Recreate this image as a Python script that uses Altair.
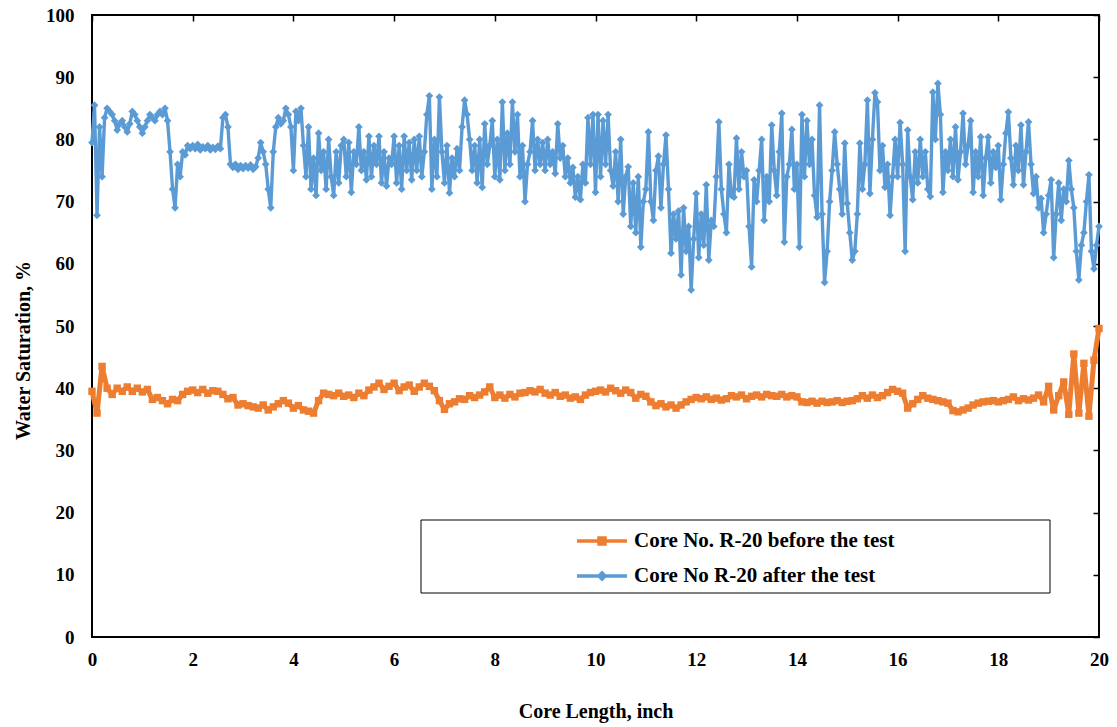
import altair as alt
import pandas as pd

BEFORE = "Core No. R-20 before the test"
AFTER = "Core No R-20 after the test"
ORANGE = "#ED7D31"
BLUE = "#5B9BD5"

# Water saturation after the test, sampled every 0.05 inch (one row per inch)
after_sw = [
    79.5, 85.5, 67.8, 82, 74, 83.5, 85, 84.5, 84, 83, 81.5, 82.5, 83, 82, 81.2, 82.5, 84.5, 84, 83, 82,
    81, 82, 83, 84, 83.5, 83, 84, 84.5, 84, 85, 83, 78, 72, 69, 76, 74, 78, 77.5, 79, 78.5,
    79, 78.5, 79.2, 78.3, 78.8, 78.5, 79, 78.3, 78.7, 78.4, 78.9, 78.5, 83.5, 84, 82, 76, 75.5, 76, 75.2, 75.8,
    75.3, 75.8, 75.4, 75.9, 75.2, 75.6, 77, 79.5, 78, 76, 72, 69, 78, 82, 83.5, 82.5, 83, 85, 84, 82,
    75, 84.5, 83, 85, 79, 74, 82, 72, 77, 71, 81, 75, 78, 72, 80, 74, 71, 78, 73, 79,
    80, 74, 79.5, 71.5, 78, 76, 82, 75, 78, 73.5, 80.5, 74, 79, 76, 80.5, 73, 78, 72.5, 77, 76,
    80.5, 73, 79, 72, 80.5, 75, 79.5, 73.5, 80, 75, 80.5, 74, 78, 84, 87, 72, 80, 74, 86.8, 78,
    73, 79, 71.4, 77, 74, 78.5, 75, 82, 86.3, 84, 80, 75, 79, 73, 80, 72.3, 82.5, 76, 79, 83,
    74, 80, 73.5, 86, 75, 81, 76, 86, 78, 84, 74, 79, 70, 76, 78, 83, 75, 80, 76, 79.5,
    75, 80, 76, 78, 74.5, 82.5, 77, 79, 74, 77, 73, 75.5, 70.7, 74, 70.3, 76, 73, 83.5, 76, 84,
    71.5, 84, 74, 83, 76, 84, 75, 72.5, 78, 70, 80, 68, 74, 75.6, 66, 73, 65, 74, 62.7, 70,
    72, 81.2, 70, 67, 75, 77.3, 69, 76, 80.7, 72, 61.7, 68, 64, 68.5, 58.2, 69, 62, 66, 55.8, 64,
    71.3, 61, 68, 63, 72.7, 60.6, 67, 66, 74, 82.8, 72, 68, 65, 76, 71, 70.7, 80.2, 72, 78, 74,
    75, 66, 59.5, 73.5, 70, 75, 80, 67, 74, 70, 82.3, 75, 71, 78, 84.2, 63.5, 74, 76, 81.6, 72,
    76, 62.7, 84, 74, 83, 76, 80, 71, 67.5, 85.5, 68, 57, 62, 70, 75, 81.2, 76, 72, 68, 79.4,
    69.7, 65, 60.6, 62, 68, 79.4, 72, 76, 86.3, 71.3, 80, 87.5, 86, 75, 79, 72.3, 76, 67.8, 74, 80,
    74, 82.7, 76, 62, 81.5, 74, 70.3, 78, 73, 80, 74, 78, 72, 70.8, 87.6, 80, 89, 84, 71.5, 78,
    75, 80, 74, 82, 73.5, 78, 84.2, 76, 79, 83, 71.5, 78, 74, 80.4, 71, 77, 80.4, 73, 78, 75.5,
    79, 70.3, 76, 81, 84.4, 77, 72.7, 79, 75, 82.3, 72.7, 78, 82.8, 76, 71.3, 74, 69, 70.5, 65, 68,
    71, 73.5, 61, 68, 73, 67, 72, 70, 76.6, 72, 69, 62, 57.4, 63, 65, 70, 74.3, 62, 59.2, 63,
    66,
]
after_step = 0.05

# Water saturation before the test, sampled every 0.1 inch (one row per inch)
before_sw = [
    39.5, 36, 43.5, 40, 39, 40, 39.5, 40.2, 39.5, 40,
    39.4, 39.8, 38.2, 38.5, 38, 37.5, 38.2, 38, 39, 39.5,
    39.7, 39.3, 39.8, 39.2, 39.6, 39.5, 39, 38.3, 38.5, 37.3,
    37.5, 37.2, 37, 36.8, 37.3, 36.5, 37, 37.5, 38, 37.6,
    36.8, 37.2, 36.5, 36.3, 36, 38, 39.2, 39, 38.8, 39.2,
    38.7, 38.9, 38.5, 39.2, 38.8, 39.7, 40.2, 40.8, 39.8, 40.3,
    40.8, 39.6, 40.2, 40.5, 39.5, 40.2, 40.8, 40.3, 39.6, 38,
    36.6, 37.5, 37.8, 38.3, 38.2, 38.8, 38.5, 38.9, 39.4, 40.2,
    38.5, 38.9, 38.4, 39, 38.6, 39.2, 39.3, 39.6, 39.4, 39.8,
    39.2, 38.9, 39.3, 38.7, 38.9, 38.4, 38.6, 38.2, 38.9, 39.3,
    39.5, 39.7, 39.4, 40, 39.6, 39.2, 39.7, 39.3, 38.4, 39,
    38.7, 37.8, 37.2, 37.5, 37, 37.3, 36.8, 37.3, 37.8, 38.2,
    38.5, 38.3, 38.6, 38.2, 38.4, 38.1, 38.3, 38.8, 38.6, 38.9,
    38.3, 38.7, 38.9, 38.6, 39, 38.8, 38.7, 39, 38.6, 38.8,
    38.6, 37.8, 37.7, 37.9, 37.6, 37.9, 37.7, 37.8, 38, 37.7,
    37.9, 38, 38.3, 38.8, 38.4, 38.9, 38.5, 38.8, 39.3, 39.8,
    39.5, 39.2, 36.8, 37.5, 38.2, 38.8, 38.4, 38.2, 38, 37.8,
    37.6, 36.4, 36.2, 36.5, 36.8, 37.3, 37.6, 37.8, 37.9, 38,
    37.8, 38, 38.2, 38.6, 38, 38.3, 38.1, 38.4, 38.9, 37.8,
    40.3, 36.5, 38.8, 41, 35.8, 45.5, 36, 44, 35.5, 44.5,
    49.6,
]
before_step = 0.1

x_ticks = list(range(0, 21, 2))
y_ticks = list(range(0, 101, 10))

before_df = pd.DataFrame({
    "length": [round(i * before_step, 2) for i in range(len(before_sw))],
    "sw": before_sw,
    "series": BEFORE,
})
after_df = pd.DataFrame({
    "length": [round(i * after_step, 2) for i in range(len(after_sw))],
    "sw": after_sw,
    "series": AFTER,
})

FONT = "Liberation Serif"
x_scale = alt.Scale(domain=[0, 20], nice=False, zero=False)
y_scale = alt.Scale(domain=[0, 100], nice=False)

label_x_axis = alt.Axis(
    values=x_ticks, ticks=False, tickSize=0, domain=False, grid=False, labelFlush=False,
    labelPadding=13, labelFont=FONT, labelFontSize=19, labelFontWeight="bold",
    labelColor="black", title="Core Length, inch", titleFont=FONT,
    titleFontSize=20, titleFontWeight="bold", titleColor="black", titlePadding=32,
)
label_y_axis = alt.Axis(
    values=y_ticks, ticks=False, tickSize=0, domain=False, grid=False, labelFlush=False,
    labelPadding=18, labelFont=FONT, labelFontSize=19, labelFontWeight="bold",
    labelColor="black", title="Water Saturation, %", titleFont=FONT,
    titleFontSize=20, titleFontWeight="bold", titleColor="black", titlePadding=12,
    titleY=335,
)
# short ticks pointing into the plot area
tick_x_axis = alt.Axis(values=x_ticks, labels=False, title=None, ticks=True, tickSize=6,
                       tickColor="black", tickWidth=1.5, offset=-6, domain=False, grid=False)
tick_y_axis = alt.Axis(values=y_ticks, labels=False, title=None, ticks=True, tickSize=6,
                       tickColor="black", tickWidth=1.5, offset=-6, domain=False, grid=False)


def series_legend(y, color, marker_path):
    return alt.Legend(
        title=None,
        orient="none",
        legendX=498,
        legendY=y,
        padding=0,
        symbolType="M-2.5,0L2.5,0" + marker_path,
        symbolSize=400,
        symbolStrokeWidth=3.5,
        symbolStrokeColor=color,
        symbolFillColor=color,
        symbolOpacity=1,
        labelFont=FONT,
        labelFontSize=21,
        labelFontWeight="bold",
        labelColor="black",
        labelOffset=20,
        labelLimit=500,
    )


SQUARE = "M-0.3,-0.3L0.3,-0.3L0.3,0.3L-0.3,0.3Z"
DIAMOND = "M0,-0.3L0.3,0L0,0.3L-0.3,0Z"


def series_layers(data, name, color, width, shape, size, legend, x_axis, y_axis):
    scale = alt.Scale(domain=[name], range=[color])
    x_enc = alt.X("length:Q", scale=x_scale, axis=x_axis)
    y_enc = alt.Y("sw:Q", scale=y_scale, axis=y_axis)
    line = alt.Chart(data).mark_line(strokeWidth=width, strokeJoin="round").encode(
        x=x_enc,
        y=y_enc,
        color=alt.Color("series:N", scale=scale, legend=legend),
        order="length:Q",
    )
    pts = alt.Chart(data).mark_point(filled=True, opacity=1, shape=shape, size=size).encode(
        x=x_enc,
        y=y_enc,
        color=alt.Color("series:N", scale=scale, legend=None),
    )
    return alt.layer(line, pts)


before_layer = series_layers(
    before_df, BEFORE, ORANGE, 5, "square", 55,
    series_legend(514, ORANGE, SQUARE), label_x_axis, label_y_axis,
)
after_layer = series_layers(
    after_df, AFTER, BLUE, 3.4, "diamond", 60,
    series_legend(549, BLUE, DIAMOND), tick_x_axis, tick_y_axis,
)

# Legend frame
legend_box = alt.Chart(pd.DataFrame({"k": [0]})).mark_rect(
    fill="white", stroke="black", strokeWidth=1
).encode(
    x=alt.value(329), x2=alt.value(958), y=alt.value(505), y2=alt.value(578)
)

chart = (
    alt.layer(before_layer, after_layer, legend_box)
    .resolve_scale(color="independent")
    .resolve_axis(x="independent", y="independent")
    .properties(
        width=1007,
        height=622,
        autosize=alt.AutoSizeParams(type="none"),
        padding={"left": 92, "top": 15, "right": 18, "bottom": 90},
        background="white",
    )
    .configure_view(stroke="black", strokeWidth=2)
)

chart.save("out.html", embed_options={"renderer": "svg", "actions": False})
